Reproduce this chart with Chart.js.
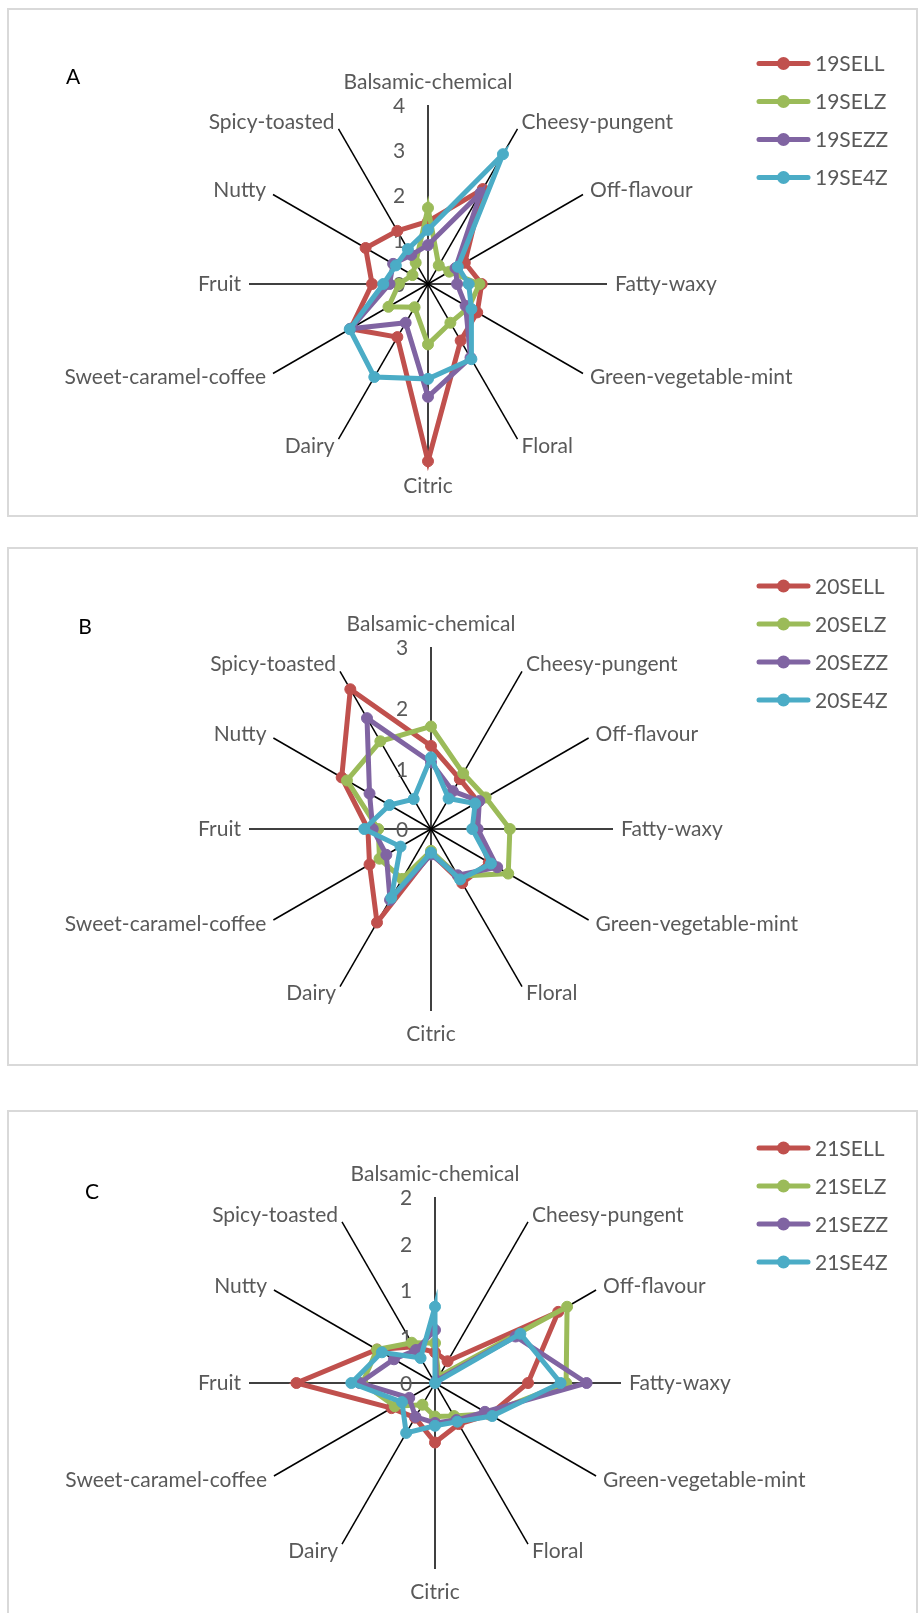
<!DOCTYPE html>
<html>
<head>
<meta charset="utf-8">
<script src="https://cdn.jsdelivr.net/npm/chart.js@4.4.1/dist/chart.umd.min.js"></script>
<style>
  body { margin: 0; background: #fff; }
  #page { position: relative; width: 918px; height: 1613px; overflow: hidden; }
  .panel { position: absolute; left: 7px; width: 911px; border: 2px solid #d9d9d9; box-sizing: border-box; }
  .tag { position: absolute; font: 21px Lato, "Liberation Sans", sans-serif; color: #000; transform: translate(-50%, -50%); }
  canvas { position: absolute; left: 0; }
</style>
</head>
<body>
<div id="page">
  <div class="panel" style="top:8px; height:509px"></div>
  <div class="panel" style="top:547px; height:519px"></div>
  <div class="panel" style="top:1110px; height:510px"></div>
  <canvas id="radarA" width="918" height="530" style="top:0px"></canvas>
  <canvas id="radarB" width="918" height="550" style="top:530px"></canvas>
  <canvas id="radarC" width="918" height="533" style="top:1080px"></canvas>
  <div class="tag" style="left:73px; top:75px">A</div>
  <div class="tag" style="left:85px; top:625px">B</div>
  <div class="tag" style="left:92px; top:1190px">C</div>
</div>
<script>
const attributes = ['Balsamic-chemical', 'Cheesy-pungent', 'Off-flavour', 'Fatty-waxy',
  'Green-vegetable-mint', 'Floral', 'Citric', 'Dairy', 'Sweet-caramel-coffee',
  'Fruit', 'Nutty', 'Spicy-toasted'];

// 2019 vintage
const samples19 = ['19SELL', '19SELZ', '19SEZZ', '19SE4Z'];
const sell19 = [1.40, 2.45, 0.95, 1.20, 1.27, 1.46, 3.96, 1.37, 2.00, 1.25, 1.61, 1.37];
const selz19 = [1.70, 0.48, 0.55, 1.15, 1.05, 1.00, 1.35, 0.60, 1.02, 0.65, 0.40, 0.55];
const sezz19 = [0.87, 2.35, 0.71, 0.65, 0.97, 1.90, 2.52, 1.00, 2.00, 0.86, 0.90, 0.75];
const se4z19 = [1.21, 3.35, 0.77, 0.91, 1.12, 1.94, 2.12, 2.40, 2.02, 1.00, 0.83, 0.90];

// 2020 vintage
const samples20 = ['20SELL', '20SELZ', '20SEZZ', '20SE4Z'];
const sell20 = [1.37, 0.95, 0.90, 0.75, 1.10, 1.03, 0.40, 1.78, 1.17, 1.04, 1.70, 2.66];
const selz20 = [1.69, 1.06, 1.04, 1.30, 1.47, 0.90, 0.36, 0.95, 0.98, 0.87, 1.60, 1.67];
const sezz20 = [1.10, 0.72, 0.92, 0.77, 1.26, 0.88, 0.42, 1.35, 0.85, 0.96, 1.17, 2.11];
const se4z20 = [1.18, 0.58, 0.84, 0.68, 1.14, 0.96, 0.39, 1.31, 0.58, 1.10, 0.79, 0.57];

// 2021 vintage
const samples21 = ['21SELL', '21SELZ', '21SEZZ', '21SE4Z'];
const sell21 = [0.33, 0.27, 1.53, 1.00, 0.68, 0.51, 0.64, 0.43, 0.54, 1.49, 0.72, 0.45];
const selz21 = [0.43, 0.08, 1.64, 1.41, 0.66, 0.41, 0.36, 0.27, 0.50, 0.78, 0.72, 0.50];
const sezz21 = [0.57, 0.03, 1.00, 1.63, 0.62, 0.46, 0.43, 0.42, 0.32, 0.81, 0.51, 0.41];
const se4z21 = [0.82, 0.00, 1.06, 1.35, 0.71, 0.48, 0.46, 0.62, 0.41, 0.90, 0.66, 0.31];

const colors = ['#C0504D', '#9BBB59', '#8064A2', '#4BACC6'];
const textGrey = '#595959';
const labelFont = '21px Lato, "Liberation Sans", sans-serif';

// tick values, category names and the legend are painted here
const radarText = {
  id: 'radarText',
  beforeDatasetsDraw(chart) {
    const r = chart.scales.r;
    const ctx = chart.ctx;
    ctx.save();
    ctx.font = labelFont;
    ctx.fillStyle = textGrey;

    ctx.textAlign = 'center';
    ctx.textBaseline = 'middle';
    r.ticks.forEach(t => {
      const d = r.getDistanceFromCenterForValue(t.value);
      ctx.fillText(t.label, r.xCenter - 29, r.yCenter - d + 1.5);
    });

    const n = chart.data.labels.length;
    chart.data.labels.forEach((name, i) => {
      const p = r.getPointPosition(i, r.drawingArea + 8);
      const deg = Math.round(i * 360 / n);
      if (deg === 0) {
        ctx.textAlign = 'center';
        ctx.textBaseline = 'alphabetic';
        ctx.fillText(name, p.x, p.y - 8);
      } else if (deg === 180) {
        ctx.textAlign = 'center';
        ctx.textBaseline = 'alphabetic';
        ctx.fillText(name, p.x, p.y + 22);
      } else {
        ctx.textAlign = deg < 180 ? 'left' : 'right';
        ctx.textBaseline = 'middle';
        ctx.fillText(name, p.x, p.y);
      }
    });
    ctx.restore();
  },
  afterDraw(chart, args, opts) {
    const ctx = chart.ctx;
    ctx.save();
    ctx.font = labelFont;
    chart.data.datasets.forEach((ds, i) => {
      const y = opts.top + i * 38;
      ctx.strokeStyle = ds.borderColor;
      ctx.lineWidth = 5;
      ctx.lineCap = 'round';
      ctx.beginPath();
      ctx.moveTo(759, y);
      ctx.lineTo(808, y);
      ctx.stroke();
      ctx.fillStyle = ds.borderColor;
      ctx.beginPath();
      ctx.arc(783.5, y, 6.5, 0, Math.PI * 2);
      ctx.fill();
      ctx.fillStyle = textGrey;
      ctx.textAlign = 'left';
      ctx.textBaseline = 'middle';
      ctx.fillText(ds.label, 815, y + 1);
    });
    ctx.restore();
  }
};

function makeRadar(id, names, series, max, step, padding, legendTop, tickLabel) {
  const datasets = series.map((values, i) => ({
    label: names[i],
    data: values,
    borderColor: colors[i],
    backgroundColor: colors[i],
    pointBackgroundColor: colors[i],
    pointBorderColor: colors[i],
    fill: false,
    order: series.length - i   // last sample ends up on top
  }));

  return new Chart(document.getElementById(id), {
    type: 'radar',
    data: { labels: attributes, datasets: datasets },
    options: {
      responsive: false,
      animation: false,
      layout: { padding: padding },
      elements: {
        line: { borderWidth: 5, tension: 0 },
        point: { radius: 5.5, borderWidth: 1, hoverRadius: 5.5 }
      },
      scales: {
        r: {
          min: 0,
          max: max,
          ticks: { display: false, stepSize: step, callback: tickLabel },
          grid: { display: false },
          angleLines: { display: true, color: '#000', lineWidth: 1.5 },
          pointLabels: { display: false }
        }
      },
      plugins: {
        legend: { display: false },
        tooltip: { enabled: false },
        radarText: { top: legendTop }
      }
    },
    plugins: [radarText]
  });
}

const wholeNumber = v => String(Math.round(v));

makeRadar('radarA', samples19, [sell19, selz19, sezz19, se4z19], 4, 1,
  { left: 249, right: 311, top: 105, bottom: 67 }, 63.5, wholeNumber);
makeRadar('radarB', samples20, [sell20, selz20, sezz20, se4z20], 3, 1,
  { left: 249, right: 305, top: 117, bottom: 69 }, 56, wholeNumber);
makeRadar('radarC', samples21, [sell21, selz21, sezz21, se4z21], 2, 0.5,
  { left: 249, right: 297, top: 117, bottom: 44 }, 68, wholeNumber);
</script>
</body>
</html>
